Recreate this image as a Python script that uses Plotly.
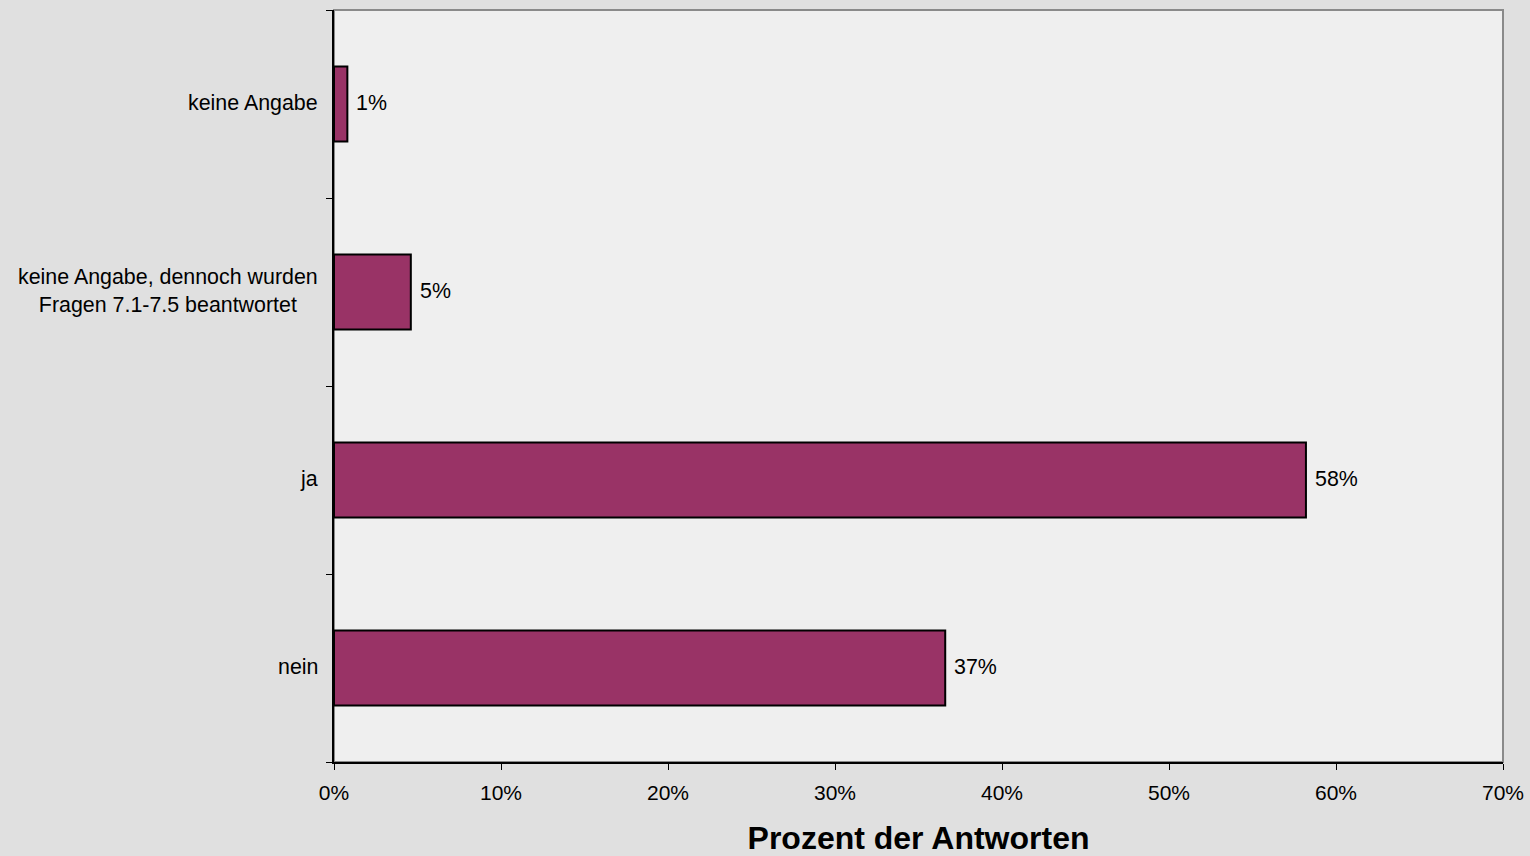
import plotly.graph_objects as go

categories = ["keine Angabe", "keine Angabe, dennoch wurden<br>Fragen 7.1-7.5 beantwortet", "ja", "nein"]
values = [0.8, 4.6, 58.2, 36.6]
value_labels = ["1%", "5%", "58%", "37%"]
x_ticks = [0, 10, 20, 30, 40, 50, 60, 70]
x_tick_labels = ["0%", "10%", "20%", "30%", "40%", "50%", "60%", "70%"]

font = "Liberation Sans, Arial, sans-serif"

fig = go.Figure()
fig.add_trace(go.Bar(
    x=values, y=categories, orientation="h",
    marker=dict(color="#993366", line=dict(color="#000000", width=2)),
    width=0.4,
    hoverinfo="x+y",
))

for c in categories:
    fig.add_annotation(
        x=0, xref="paper", y=c, yref="y", xanchor="right", yanchor="middle",
        xshift=-14, yshift=1, text=c, showarrow=False, align="center",
        font=dict(family=font, size=21.4, color="#000000"),
    )

for c, v, t in zip(categories, values, value_labels):
    fig.add_annotation(
        x=v, xref="x", y=c, yref="y", xanchor="left", yanchor="middle",
        xshift=7, yshift=1, text=t, showarrow=False,
        font=dict(family=font, size=21.4, color="#000000"),
    )

fig.add_shape(type="rect", xref="paper", yref="paper", x0=0, x1=1, y0=0, y1=1,
              line=dict(color="#8a8a8a", width=2), layer="below")

fig.update_layout(
    width=1530, height=856,
    margin=dict(l=334, r=27, t=10, b=94, autoexpand=False),
    paper_bgcolor="#e0e0e0",
    plot_bgcolor="#efefef",
    showlegend=False,
    bargap=0.6,
    xaxis=dict(
        range=[0, 70], tickvals=x_ticks, ticktext=x_tick_labels,
        automargin=False,
        ticks="outside", ticklen=6, tickcolor="#000000", tickwidth=1,
        ticklabelstandoff=5,
        showline=True, linecolor="#000000", linewidth=2,
        showgrid=False, zeroline=False,
        tickfont=dict(family=font, size=21, color="#000000"),
        title=dict(text="<b>Prozent der Antworten</b>",
                   font=dict(family=font, size=32, color="#000000"), standoff=23),
    ),
    yaxis=dict(
        categoryorder="array", categoryarray=categories[::-1],
        autorange=True, automargin=False,
        showticklabels=False,
        ticks="outside", ticklen=6, tickcolor="#000000", tickson="boundaries",
        showline=True, linecolor="#000000", linewidth=2,
        showgrid=False, zeroline=False,
    ),
)

fig.write_html("out.html",
               config={"displayModeBar": False},
               post_script="document.body.style.margin='0';document.body.style.overflow='hidden';")
